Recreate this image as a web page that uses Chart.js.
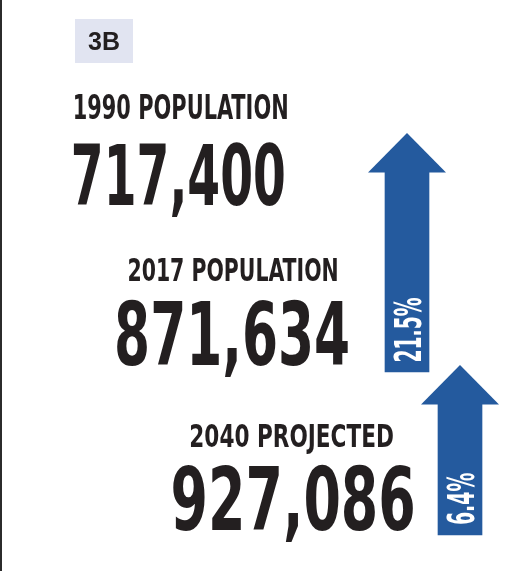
<!DOCTYPE html>
<html>
<head>
<meta charset="utf-8">
<script src="https://cdn.jsdelivr.net/npm/chart.js@4.4.0/dist/chart.umd.min.js"></script>
<style>
    html, body { margin: 0; padding: 0; background: #ffffff; }
    #wrap { position: relative; width: 506px; height: 571px; }
</style>
</head>
<body>
<div id="wrap"><canvas id="popChart"></canvas></div>
<script>
// Data read from the graphic
const badgeLabel = '3B';
const rowLabels = ['1990 POPULATION', '2017 POPULATION', '2040 PROJECTED'];
const populations = [717400, 871634, 927086];
const changeLabels = ['21.5%', '6.4%'];

// Layout (page units, 0..506 x 0..571)
const titleBoxes = [[75, 94, 287, 119], [129, 257, 337, 281], [191, 423, 393, 447]];
const numberBoxes = [[74, 142, 284, 205], [117, 300, 348, 365], [173, 465, 413, 530]];
const arrowCenters = [407, 460];
const arrowBottoms = [372, 535];
const arrowTops = [172, 404];
const arrowTextLengths = [63, 51];

const INK = '#231f20';
const BLUE = '#245a9e';
const FONT = '"Liberation Sans Narrow", "DejaVu Sans Condensed", "Liberation Sans", sans-serif';

// Fit text into a box by stretching it
function fitText(ctx, text, left, top, right, bottom, color) {
    ctx.save();
    ctx.font = 'bold 100px ' + FONT;
    ctx.textBaseline = 'alphabetic';
    ctx.textAlign = 'left';
    const m = ctx.measureText(text);
    const w = m.actualBoundingBoxLeft + m.actualBoundingBoxRight;
    const sx = (right - left) / w;
    const sy = (bottom - top) / m.actualBoundingBoxAscent;
    ctx.translate(left, bottom);
    ctx.scale(sx, sy);
    ctx.fillStyle = color;
    ctx.fillText(text, m.actualBoundingBoxLeft, 0);
    ctx.restore();
}

const infographicPlugin = {
    id: 'infographic',
    beforeDatasetsDraw(chart) {
        const ctx = chart.ctx;
        const xs = chart.scales.x;
        const ys = chart.scales.y;

        // left rule
        ctx.save();
        ctx.fillStyle = '#2b2b2b';
        ctx.fillRect(xs.getPixelForValue(0), ys.getPixelForValue(0), 2, ys.getPixelForValue(571) - ys.getPixelForValue(0));

        // badge
        ctx.fillStyle = '#e1e4f1';
        ctx.fillRect(xs.getPixelForValue(75), ys.getPixelForValue(19), 58, 44);
        ctx.fillStyle = INK;
        ctx.font = 'bold 25px "Liberation Sans", Arial, sans-serif';
        ctx.textAlign = 'center';
        ctx.textBaseline = 'alphabetic';
        ctx.fillText(badgeLabel, xs.getPixelForValue(104), ys.getPixelForValue(50));
        ctx.restore();

        // titles and numbers
        rowLabels.forEach((label, i) => {
            const t = titleBoxes[i];
            fitText(ctx, label, xs.getPixelForValue(t[0]), ys.getPixelForValue(t[1]),
                xs.getPixelForValue(t[2]), ys.getPixelForValue(t[3]), INK);
            const n = numberBoxes[i];
            fitText(ctx, populations[i].toLocaleString('en-US'), xs.getPixelForValue(n[0]), ys.getPixelForValue(n[1]),
                xs.getPixelForValue(n[2]), ys.getPixelForValue(n[3]), INK);
        });
    },
    afterDatasetsDraw(chart) {
        const ctx = chart.ctx;
        const meta = chart.getDatasetMeta(0);
        meta.data.forEach((bar, i) => {
            const p = bar.getProps(['x', 'y', 'base', 'width'], true);
            const top = Math.min(p.y, p.base);
            const bottom = Math.max(p.y, p.base);
            const headW = 78;
            const headH = 39;

            // arrow head
            ctx.save();
            ctx.fillStyle = BLUE;
            ctx.beginPath();
            ctx.moveTo(p.x - headW / 2, top + 0.5);
            ctx.lineTo(p.x + headW / 2, top + 0.5);
            ctx.lineTo(p.x, top - headH);
            ctx.closePath();
            ctx.fill();
            ctx.restore();

            // rotated label
            const capH = 28;
            const len = arrowTextLengths[i];
            ctx.save();
            ctx.font = 'bold 100px ' + FONT;
            ctx.textBaseline = 'alphabetic';
            const m = ctx.measureText(changeLabels[i]);
            const w = m.actualBoundingBoxLeft + m.actualBoundingBoxRight;
            ctx.translate(p.x + capH / 2, bottom - 11);
            ctx.rotate(-Math.PI / 2);
            ctx.scale(len / w, capH / m.actualBoundingBoxAscent);
            ctx.fillStyle = '#ffffff';
            ctx.fillText(changeLabels[i], m.actualBoundingBoxLeft, 0);
            ctx.restore();
        });
    }
};

const ctx = document.getElementById('popChart').getContext('2d');
const popChart = new Chart(ctx, {
    type: 'bar',
    data: {
        datasets: [{
            label: 'Change',
            data: changeLabels.map((c, i) => ({ x: arrowCenters[i], y: [arrowBottoms[i], arrowTops[i]] })),
            backgroundColor: BLUE,
            borderWidth: 0,
            barThickness: 44
        }]
    },
    options: {
        responsive: true,
        maintainAspectRatio: false,
        animation: false,
        layout: { padding: 0 },
        plugins: {
            legend: { display: false },
            tooltip: { enabled: false }
        },
        scales: {
            x: { type: 'linear', min: 0, max: 506, offset: false, display: false },
            y: { type: 'linear', min: 0, max: 571, reverse: true, display: false }
        }
    },
    plugins: [infographicPlugin]
});
</script>
</body>
</html>
